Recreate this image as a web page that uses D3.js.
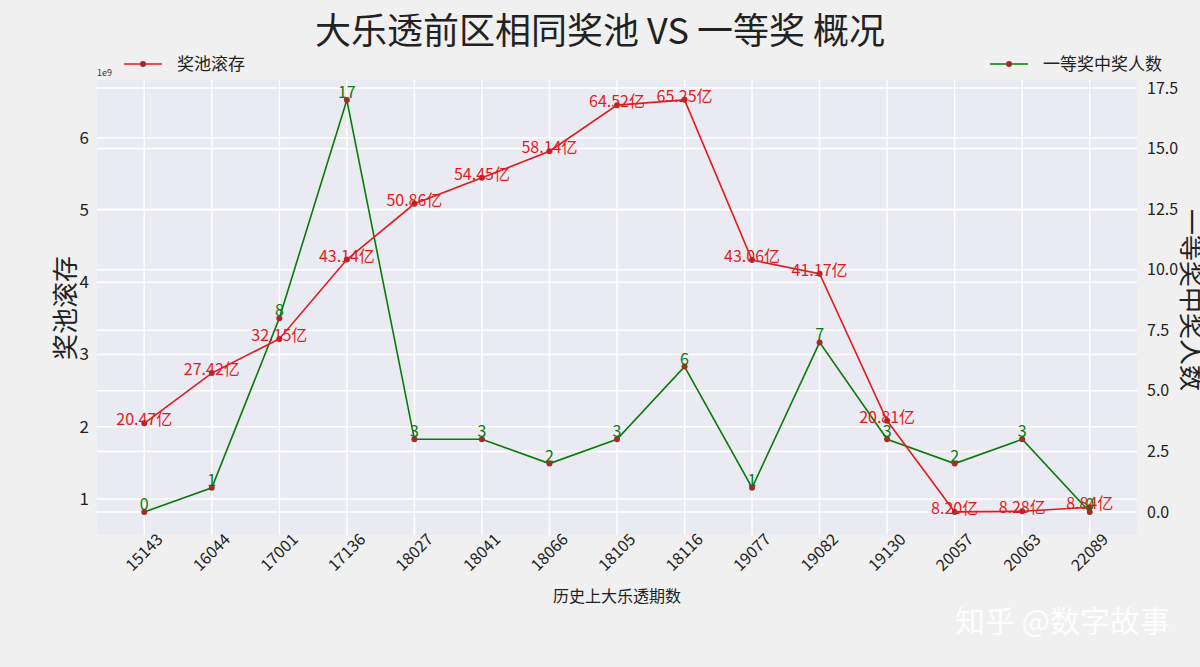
<!DOCTYPE html><html><head><meta charset="utf-8">
<script src="https://cdn.jsdelivr.net/npm/d3@7"></script>
<style>body{margin:0;background:#f0f0f0}text{font-family:"Noto Sans CJK SC",sans-serif}</style></head><body>
<svg id="c" width="1200" height="667"></svg>
<script>
const periods=["15143","16044","17001","17136","18027","18041","18066","18105","18116","19077","19082","19130","20057","20063","22089"];
const pool=[2.047,2.742,3.215,4.314,5.086,5.445,5.814,6.452,6.525,4.306,4.117,2.081,0.820,0.828,0.884];
const winners=[0,1,8,17,3,3,2,3,6,1,7,3,2,3,0];
const leftTicks=[1,2,3,4,5,6];
const rightTicks=[0,2.5,5,7.5,10,12.5,15,17.5];
const svg=d3.select("#c");
const L=97,R=1137,T=80,B=535;
svg.append("rect").attr("x",L).attr("y",T).attr("width",R-L).attr("height",B-T).attr("fill","#eaeaf2");
const x=d3.scaleLinear().domain([-0.7,14.7]).range([L,R]);
const yL=d3.scaleLinear().domain([0.5,6.8]).range([B,T]);
const yR=d3.scaleLinear().domain([-0.95,17.83]).range([B,T]);
const g=svg.append("g");
periods.forEach((p,i)=>g.append("line").attr("x1",x(i)).attr("x2",x(i)).attr("y1",T).attr("y2",B).attr("stroke","#fff").attr("stroke-width",1.5));
leftTicks.forEach(v=>g.append("line").attr("x1",L).attr("x2",R).attr("y1",yL(v)).attr("y2",yL(v)).attr("stroke","#fff").attr("stroke-width",1.5));
rightTicks.forEach(v=>g.append("line").attr("x1",L).attr("x2",R).attr("y1",yR(v)).attr("y2",yR(v)).attr("stroke","#fff").attr("stroke-width",1.5));
const ax=svg.append("g").attr("transform",`translate(0,${B})`).call(d3.axisBottom(x).tickValues(d3.range(periods.length)).tickFormat(i=>periods[i]).tickSize(0));
ax.select(".domain").remove();
ax.selectAll("text").attr("font-size",16).attr("fill","#222").attr("text-anchor","end").attr("dx","0.6em").attr("dy","0.9em").attr("transform","rotate(-45)");
const al=svg.append("g").attr("transform",`translate(${L},0)`).call(d3.axisLeft(yL).tickValues(leftTicks).tickFormat(d3.format("d")).tickSize(0).tickPadding(8));
al.select(".domain").remove();al.selectAll("text").attr("font-size",17).attr("fill","#222");
const ar=svg.append("g").attr("transform",`translate(${R},0)`).call(d3.axisRight(yR).tickValues(rightTicks).tickFormat(d3.format(".1f")).tickSize(0).tickPadding(10));
ar.select(".domain").remove();ar.selectAll("text").attr("font-size",16).attr("fill","#222").attr("font-family","DejaVu Sans Mono");
svg.append("text").attr("x",L).attr("y",76).attr("font-size",9).attr("fill","#333").text("1e9");
const lp=d3.line().x((d,i)=>x(i)).y(d=>yL(d));
const lw=d3.line().x((d,i)=>x(i)).y(d=>yR(d));
svg.append("path").attr("d",lw(winners)).attr("fill","none").attr("stroke","#087a08").attr("stroke-width",1.6);
svg.append("path").attr("d",lp(pool)).attr("fill","none").attr("stroke","#e31a1c").attr("stroke-width",1.6);
winners.forEach((d,i)=>svg.append("circle").attr("cx",x(i)).attr("cy",yR(d)).attr("r",3).attr("fill","#a52a2a"));
pool.forEach((d,i)=>svg.append("circle").attr("cx",x(i)).attr("cy",yL(d)).attr("r",3).attr("fill","#a52a2a"));
pool.forEach((d,i)=>svg.append("text").attr("x",x(i)).attr("y",yL(d)+2).attr("text-anchor","middle").attr("font-size",16).attr("fill","#e31a1c").text((d*10).toFixed(2)+"亿"));
winners.forEach((d,i)=>svg.append("text").attr("x",x(i)).attr("y",yR(d)-2).attr("text-anchor","middle").attr("font-size",16).attr("fill","#087a08").text(d));
svg.append("text").attr("x",600).attr("y",44).attr("text-anchor","middle").attr("font-size",36).attr("fill","#222").text("大乐透前区相同奖池 VS 一等奖 概况");
svg.append("text").attr("x",617).attr("y",602).attr("text-anchor","middle").attr("font-size",16).attr("fill","#222").text("历史上大乐透期数");
svg.append("text").attr("transform","translate(75,308) rotate(-90)").attr("text-anchor","middle").attr("font-size",26).attr("fill","#222").text("奖池滚存");
svg.append("text").attr("transform","translate(1182,300) rotate(90)").attr("text-anchor","middle").attr("font-size",26).attr("fill","#222").text("一等奖中奖人数");
function leg(x0,color,label){svg.append("line").attr("x1",x0).attr("x2",x0+38).attr("y1",64).attr("y2",64).attr("stroke",color).attr("stroke-width",1.6);
svg.append("circle").attr("cx",x0+19).attr("cy",64).attr("r",3).attr("fill","#a52a2a");
svg.append("text").attr("x",x0+53).attr("y",70).attr("font-size",17).attr("fill","#222").text(label);}
leg(124,"#e31a1c","奖池滚存");leg(990,"#087a08","一等奖中奖人数");
svg.append("text").attr("x",1170).attr("y",632).attr("text-anchor","end").attr("font-size",30).attr("fill","#fff").attr("opacity",0.9).text("知乎 @数字故事");
</script></body></html>
